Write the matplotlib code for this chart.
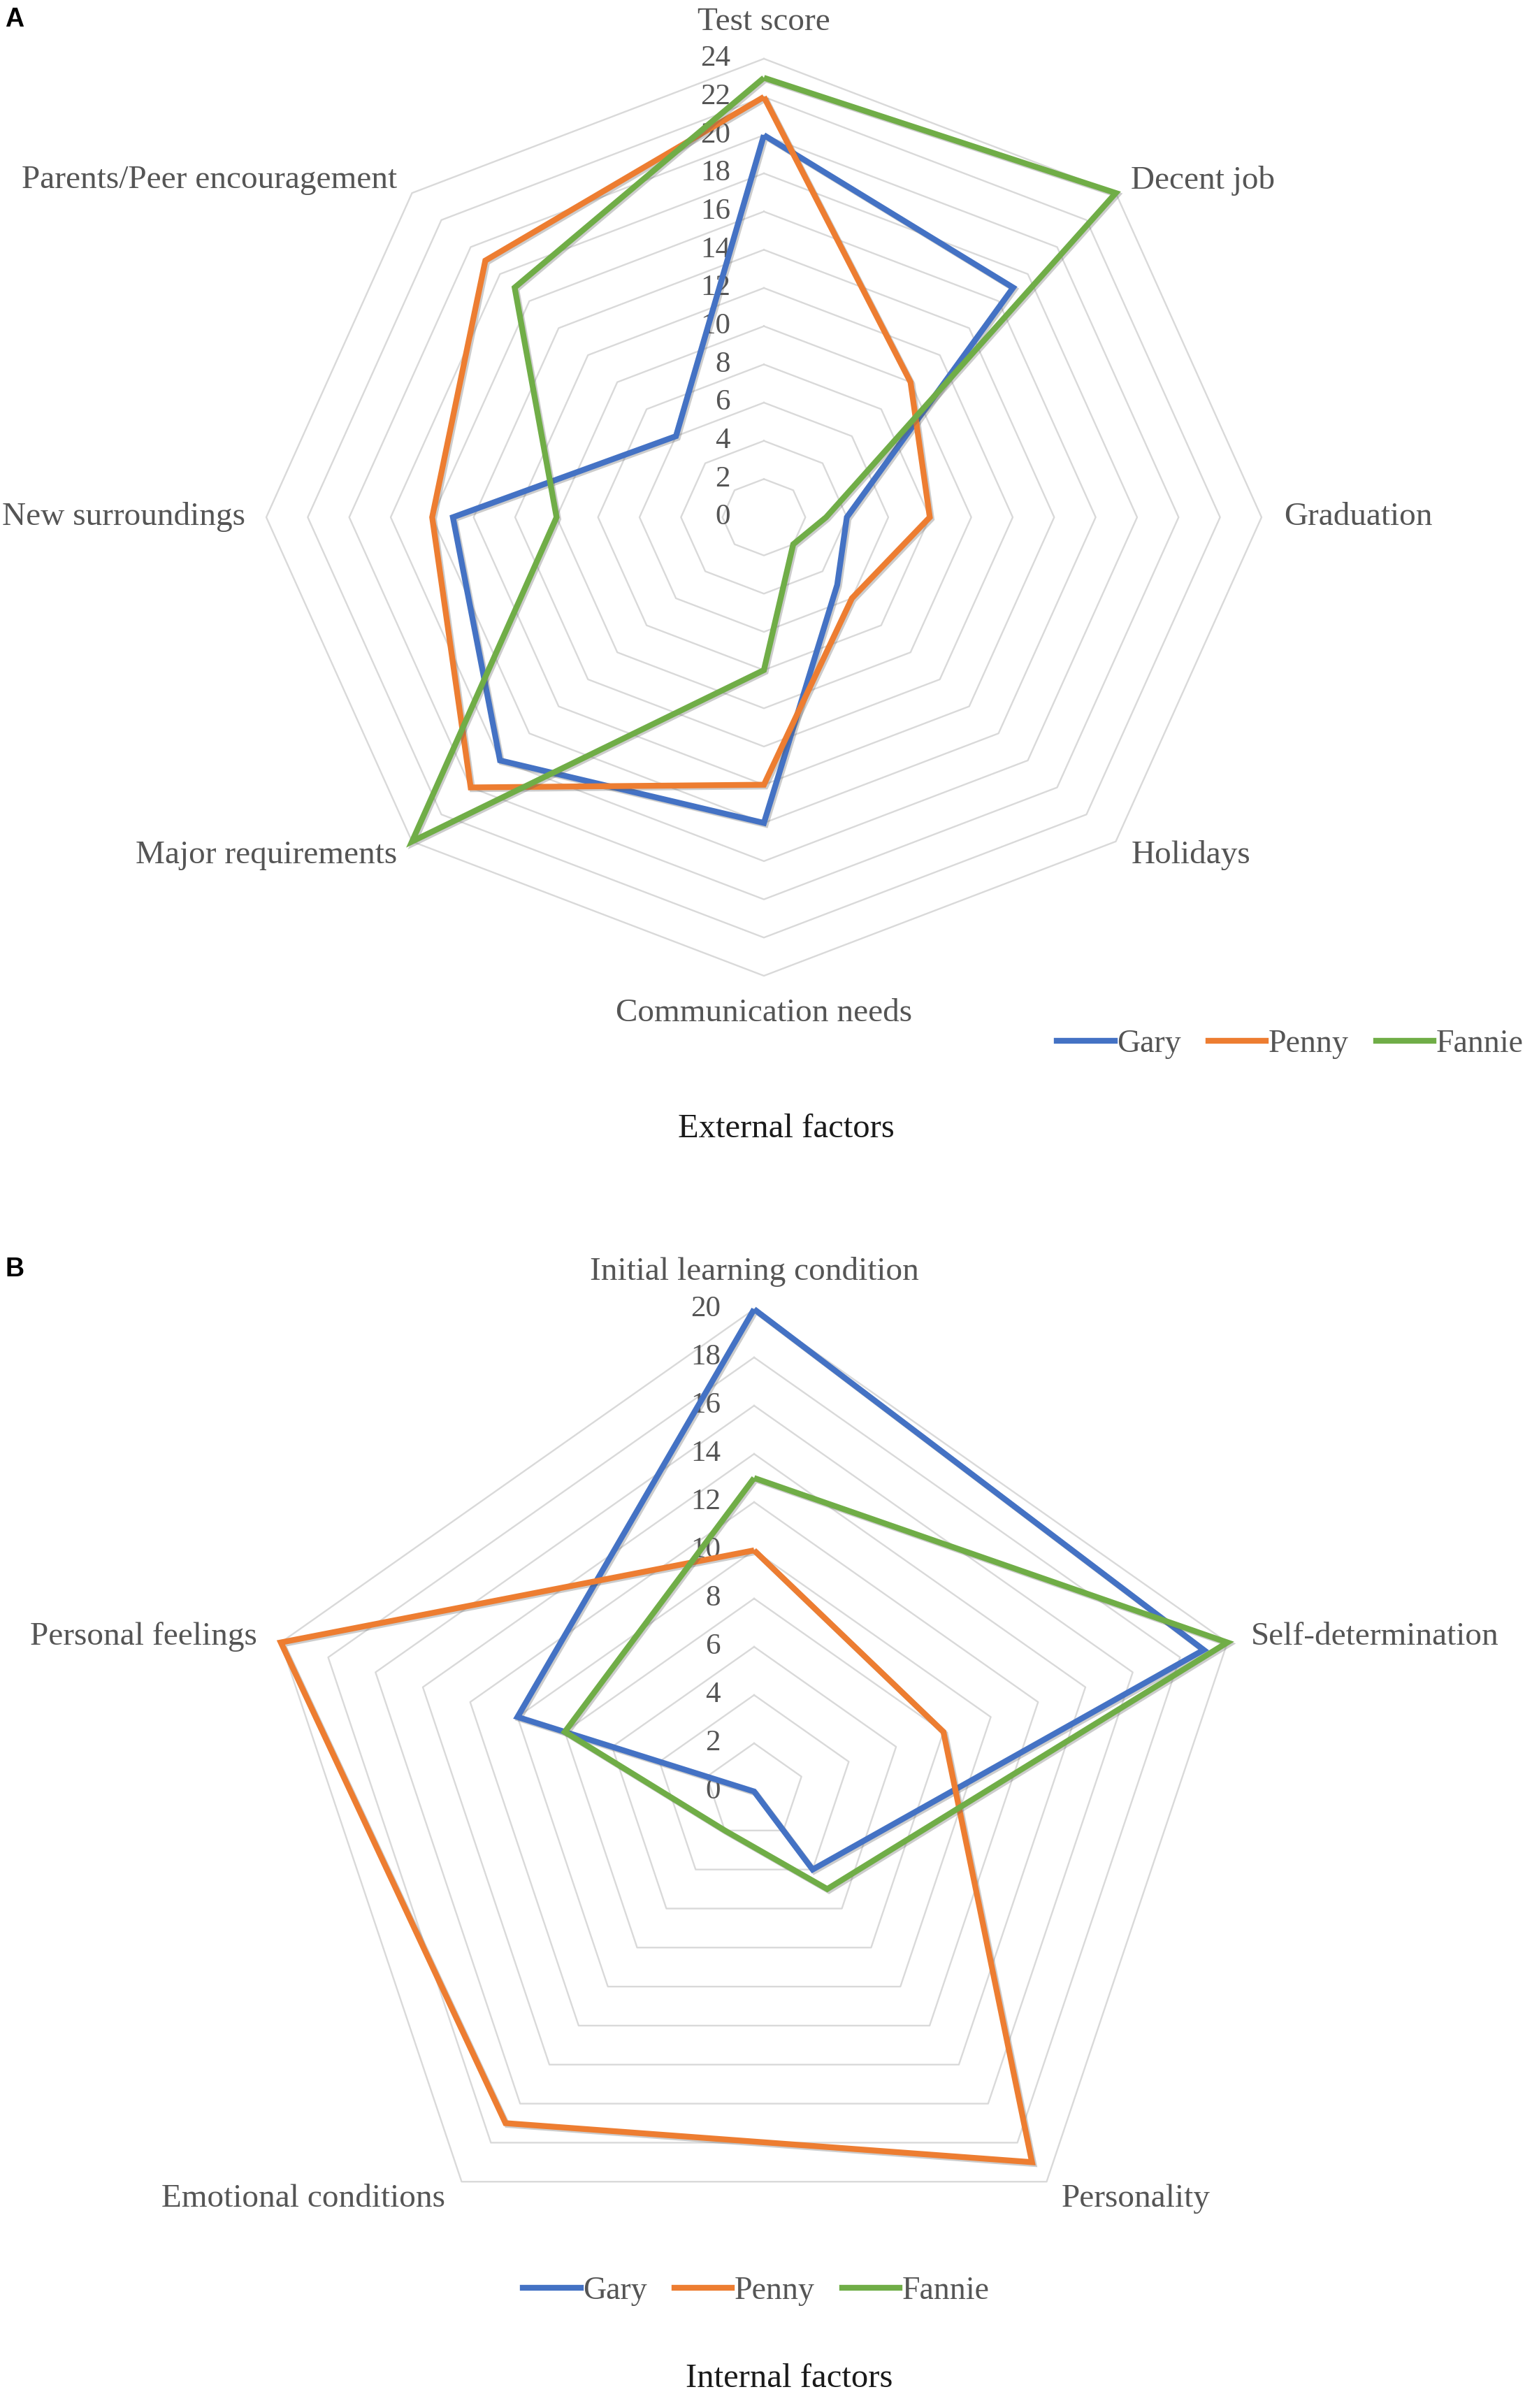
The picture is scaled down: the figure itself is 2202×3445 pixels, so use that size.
import numpy as np
import matplotlib
matplotlib.use("Agg")
import matplotlib.pyplot as plt
from matplotlib import patheffects as pe
from matplotlib.lines import Line2D

# ---------------- data ----------------
series_names = ["Gary", "Penny", "Fannie"]
series_colors = ["#4472C4", "#ED7D31", "#70AD47"]

ext_categories = ["Test score", "Decent job", "Graduation", "Holidays",
                  "Communication needs", "Major requirements",
                  "New surroundings", "Parents/Peer encouragement"]
ext_gary = [20, 17, 4, 5, 16, 18, 15, 6]
ext_penny = [22, 10, 8, 6, 14, 20, 16, 19]
ext_fannie = [23, 24, 3, 2, 8, 24, 10, 17]
ext_ticks = [0, 2, 4, 6, 8, 10, 12, 14, 16, 18, 20, 22, 24]

int_categories = ["Initial learning condition", "Self-determination",
                  "Personality", "Emotional conditions", "Personal feelings"]
int_gary = [20, 19, 4, 0, 10]
int_penny = [10, 8, 19, 17, 20]
int_fannie = [13, 20, 5, 2, 8]
int_ticks = [0, 2, 4, 6, 8, 10, 12, 14, 16, 18, 20]

SERIF = ["Liberation Serif", "DejaVu Serif"]
GRAY_TXT = "#555555"

W, H = 2202, 3445
fig = plt.figure(figsize=(W / 100, H / 100), dpi=100)
fig.patch.set_facecolor("white")


def radar(ax, cats, values, ticks, label_offsets):
    n = len(cats)
    rmax = ticks[-1]
    angles = np.linspace(0, 2 * np.pi, n, endpoint=False)
    closed = np.append(angles, angles[0])
    ax.set_theta_zero_location("N")
    ax.set_theta_direction(-1)
    ax.set_ylim(0, rmax)
    ax.set_aspect("auto")
    ax.grid(False)
    ax.set_xticks([])
    ax.set_yticks([])
    ax.spines["polar"].set_visible(False)
    ax.patch.set_alpha(0)

    # polygon gridlines
    for lv in ticks[1:]:
        ax.plot(closed, [lv] * (n + 1), color="#d9d9d9", lw=1.7,
                zorder=1, clip_on=False)
    # tick labels
    for lv in ticks:
        ax.annotate(str(lv), xy=(0, lv), xytext=(-48, 0),
                    textcoords="offset pixels", ha="right", va="center",
                    fontsize=31, color=GRAY_TXT, family=SERIF, zorder=2,
                    annotation_clip=False)
    # series
    for vals, color in zip(values, series_colors):
        ax.plot(closed, list(vals) + [vals[0]], color=color, lw=6,
                solid_joinstyle="miter", solid_capstyle="butt",
                clip_on=False, zorder=3,
                path_effects=[pe.SimpleLineShadow(offset=(1.8, -1.8),
                                                  shadow_color="0.35",
                                                  alpha=0.3),
                              pe.Normal()])
    # category labels
    for cat, ang, (dx, dy, ha) in zip(cats, angles, label_offsets):
        ax.annotate(cat, xy=(ang, rmax), xytext=(dx, dy),
                    textcoords="offset pixels", ha=ha, va="center",
                    fontsize=34, color=GRAY_TXT, family=SERIF,
                    annotation_clip=False)


# ---------------- panel A ----------------
axA = fig.add_axes([381 / W, 1 - 1396 / H, 1424 / W, 1312 / H],
                   projection="polar")
radar(axA, ext_categories, [ext_gary, ext_penny, ext_fannie], ext_ticks,
      [(0, 52, "center"), (22, 18, "left"), (32, 0, "left"),
       (22, -20, "left"), (0, -54, "center"), (-21, -20, "right"),
       (-30, 0, "right"), (-21, 18, "right")])

# ---------------- panel B ----------------
axB = fig.add_axes([367 / W, 1 - 3253 / H, 1424 / W, 1380 / H],
                   projection="polar")
radar(axB, int_categories, [int_gary, int_penny, int_fannie], int_ticks,
      [(0, 54, "center"), (34, 8, "left"), (21, -25, "left"),
       (-23, -25, "right"), (-34, 8, "right")])

# ---------------- legends ----------------
handles = [Line2D([], [], color=c, lw=6) for c in series_colors]
for xc, yc in [(1846 / W, 1 - 1494 / H), (1082 / W, 1 - 3278 / H)]:
    fig.legend(handles, series_names, ncol=3, loc="center",
               bbox_to_anchor=(xc, yc), frameon=False,
               prop={"family": SERIF, "size": 33}, labelcolor=GRAY_TXT,
               handlelength=1.8, handletextpad=0.08, columnspacing=0.85,
               borderpad=0, borderaxespad=0)

# ---------------- titles & panel letters ----------------
fig.text(1125 / W, 1 - 1615 / H, "External factors", ha="center",
         va="center", fontsize=35, color="#1a1a1a", family=SERIF)
fig.text(1129 / W, 1 - 3403 / H, "Internal factors", ha="center",
         va="center", fontsize=35, color="#1a1a1a", family=SERIF)
fig.text(7 / W, 1 - 10 / H, "A", ha="left", va="top", fontsize=27,
         fontweight="bold", family=["Liberation Sans", "DejaVu Sans"])
fig.text(7 / W, 1 - 1798 / H, "B", ha="left", va="top", fontsize=27,
         fontweight="bold", family=["Liberation Sans", "DejaVu Sans"])

fig.savefig("out.png", dpi=100, facecolor="white")
